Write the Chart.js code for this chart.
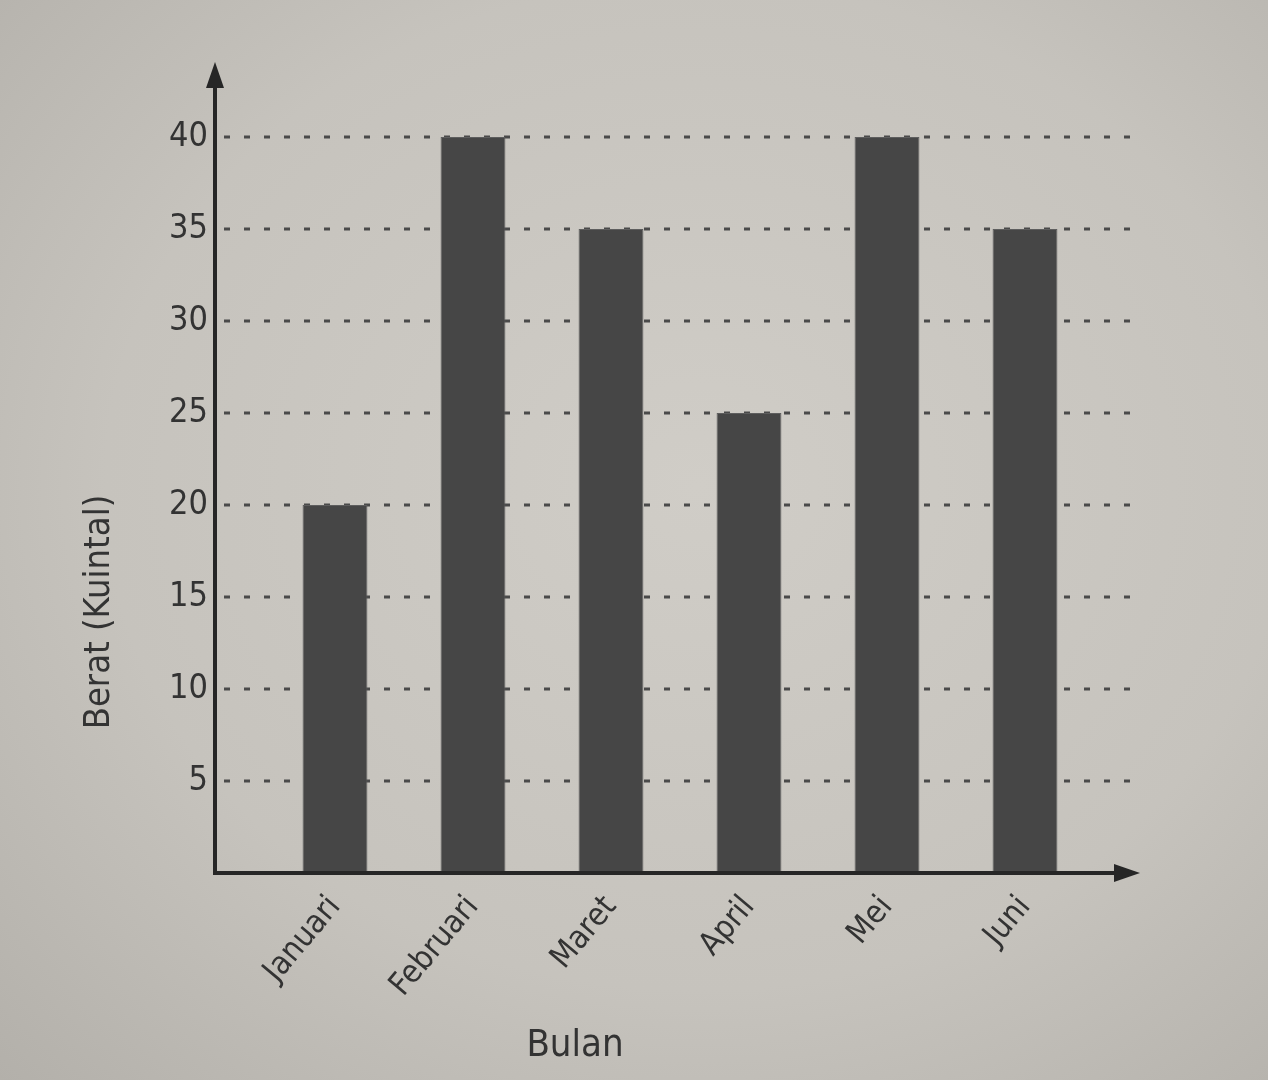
<!DOCTYPE html>
<html>
<head>
<meta charset="utf-8">
<script src="https://cdn.jsdelivr.net/npm/chart.js@4/dist/chart.umd.min.js"></script>
<style>
html,body{margin:0;padding:0;width:1268px;height:1080px;overflow:hidden;
background:radial-gradient(ellipse at 55% 45%, #d0cdc7 0%, #c6c3bd 60%, #b3b0aa 100%);}
#wrap{position:absolute;left:0;top:0;width:1268px;height:1080px;}
</style>
</head>
<body>
<div id="wrap"><canvas id="c" width="1268" height="1080"></canvas></div>
<script>
const categories = ["Januari","Februari","Maret","April","Mei","Juni"];
const beratValues = [20, 40, 35, 25, 40, 35];
const yTicks = [5,10,15,20,25,30,35,40];
const yTitle = "Berat (Kuintal)";
const xTitle = "Bulan";

const FONT = '"Liberation Sans Narrow", "DejaVu Sans Condensed", "DejaVu Sans", sans-serif';
const ink = '#262626';
const axesPlugin = {
  id:'axesPlugin',
  beforeDatasetsDraw(chart){
    const ctx = chart.ctx, y = chart.scales.y;
    ctx.save();
    ctx.strokeStyle = '#4a4a4a';
    ctx.lineWidth = 3;
    ctx.setLineDash([6,14]);
    yTicks.forEach(v=>{
      const py = y.getPixelForValue(v);
      ctx.beginPath(); ctx.moveTo(224,py); ctx.lineTo(1132,py); ctx.stroke();
    });
    ctx.restore();
  },
  afterDatasetsDraw(chart){
    const ctx = chart.ctx, y = chart.scales.y;
    const y0 = y.getPixelForValue(0);
    const ax = 215;
    ctx.save();
    ctx.strokeStyle = ink; ctx.fillStyle = ink; ctx.lineWidth = 4;
    ctx.beginPath(); ctx.moveTo(ax, y0+2); ctx.lineTo(ax, 80); ctx.stroke();
    ctx.beginPath(); ctx.moveTo(ax, 62); ctx.lineTo(ax-9, 88); ctx.lineTo(ax+9, 88); ctx.closePath(); ctx.fill();
    ctx.beginPath(); ctx.moveTo(ax-2, y0); ctx.lineTo(1120, y0); ctx.stroke();
    ctx.beginPath(); ctx.moveTo(1140, y0); ctx.lineTo(1114, y0-9); ctx.lineTo(1114, y0+9); ctx.closePath(); ctx.fill();
    // titles
    ctx.fillStyle = '#333';
    ctx.textAlign = 'center'; ctx.textBaseline = 'middle';
    ctx.font = '38px ' + FONT;
    ctx.fillText(xTitle, 575, 1046);
    ctx.font = '36px ' + FONT;
    ctx.translate(100, 612); ctx.rotate(-Math.PI/2);
    ctx.fillText(yTitle, 0, 0);
    ctx.restore();
  }
};

new Chart(document.getElementById('c'), {
  type:'bar',
  data:{labels:categories, datasets:[{label:yTitle, data:beratValues,
    backgroundColor:'#464646', borderColor:'#5e5e5e', borderWidth:1,
    barPercentage:0.94, categoryPercentage:0.5}]},
  options:{
    responsive:false, animation:false,
    layout:{padding:{top:137, right:174, left:0, bottom:0}},
    plugins:{legend:{display:false}, tooltip:{enabled:false}},
    scales:{
      x:{
        grid:{display:false, drawTicks:false}, border:{display:false},
        ticks:{color:'#333', font:{family:FONT, size:32},
          minRotation:50, maxRotation:50, padding:16, autoSkip:false},
        afterFit(s){ s.height = 1080-873; }
      },
      y:{
        min:0, max:40,
        grid:{display:false, drawTicks:false}, border:{display:false},
        ticks:{stepSize:5, color:'#333', padding:58,
          font:{family:FONT, size:34},
          callback:(v)=> yTicks.includes(v) ? String(v) : ''},
        afterFit(s){ s.width = 266; }
      }
    }
  },
  plugins:[axesPlugin]
});
</script>
</body>
</html>
